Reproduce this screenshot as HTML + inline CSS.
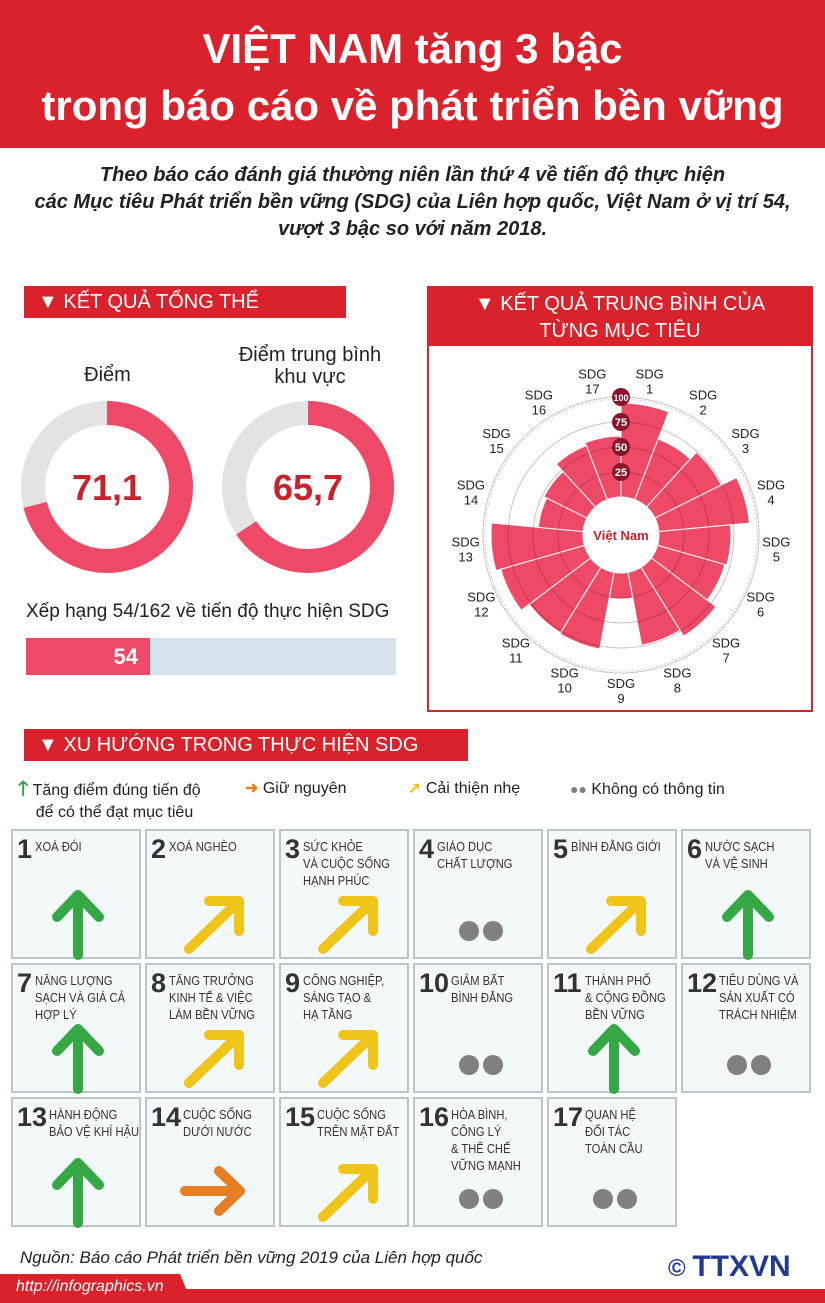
<!DOCTYPE html>
<html><head><meta charset="utf-8">
<style>
*{margin:0;padding:0;box-sizing:border-box}
body{width:825px;height:1303px;position:relative;background:#fff;font-family:"Liberation Sans",sans-serif;overflow:hidden;color:#222}
.abs{position:absolute}
.title{left:0;top:0;width:825px;height:148px;background:#d9222b;color:#fff;text-align:center;font-weight:bold;font-size:42px;line-height:57px;padding-top:20px}
.sub{left:0;top:162px;width:825px;text-align:center;font-weight:bold;font-style:italic;font-size:20px;line-height:27px;color:#222}
.bar{background:#d9222b;color:#fff;font-size:20px;line-height:32px;padding-left:14px;height:32px}
.tile{position:absolute;width:130px;height:130px;background:#f3f8fb;border:2px solid #b9c6cc}
.num{position:absolute;left:4px;top:4px;font-size:27px;font-weight:bold;color:#333;line-height:28px}
.lab{position:absolute;top:7px;font-size:13px;line-height:17px;color:#333;white-space:nowrap;transform:scaleX(0.86);transform-origin:0 0}
.tile svg{position:absolute;left:0;top:0}
</style></head><body>
<div class="abs title">VIỆT NAM tăng 3 bậc<br>trong báo cáo về phát triển bền vững</div>
<div class="abs sub">Theo báo cáo đánh giá thường niên lần thứ 4 về tiến độ thực hiện<br>các Mục tiêu Phát triển bền vững (SDG) của Liên hợp quốc, Việt Nam ở vị trí 54,<br>vượt 3 bậc so với năm 2018.</div>

<div class="abs bar" style="left:24px;top:286px;width:322px">▼ KẾT QUẢ TỔNG THỂ</div>
<div class="abs" style="left:20px;top:364px;width:175px;text-align:center;font-size:20px">Điểm</div>
<div class="abs" style="left:210px;top:344px;width:200px;text-align:center;font-size:20px;line-height:22px">Điểm trung bình<br>khu vực</div>
<svg class="abs" style="left:0;top:380px" width="420" height="220"><g id="donuts"></g></svg>
<div class="abs" style="left:26px;top:601px;font-size:19px">Xếp hạng 54/162 về tiến độ thực hiện SDG</div>
<div class="abs" style="left:26px;top:638px;width:370px;height:37px;background:#d4e3ec"></div>
<div class="abs" style="left:26px;top:638px;width:124px;height:37px;background:#ee4a68;color:#fff;font-weight:bold;font-size:22px;line-height:37px;text-align:right;padding-right:12px">54</div>

<div class="abs" style="left:427px;top:286px;width:386px;height:426px;border:2px solid #d9222b"></div>
<div class="abs" style="left:427px;top:286px;width:386px;height:60px;background:#d9222b;color:#fff;font-size:20px;line-height:27px;text-align:center;padding-top:5px">▼ KẾT QUẢ TRUNG BÌNH CỦA<br>TỪNG MỤC TIÊU</div>
<svg class="abs" style="left:429px;top:346px" width="382" height="364"><g id="polar"></g></svg>

<div class="abs bar" style="left:24px;top:729px;width:444px">▼ XU HƯỚNG TRONG THỰC HIỆN SDG</div>
<div class="abs" style="left:18px;top:778px;font-size:16px;line-height:22px"><span style="color:#2ea043;font-weight:bold;font-size:20px">🡑</span> Tăng điểm đúng tiến độ<br>&nbsp;&nbsp;&nbsp;&nbsp;để có thể đạt mục tiêu</div>
<div class="abs" style="left:245px;top:778px;font-size:16px;line-height:22px"><span style="color:#e87e22;font-weight:bold">➜</span> Giữ nguyên</div>
<div class="abs" style="left:408px;top:778px;font-size:16px;line-height:22px"><span style="color:#f0c419;font-weight:bold">➚</span> Cải thiện nhẹ</div>
<div class="abs" style="left:570px;top:778px;font-size:16px;line-height:22px"><span style="color:#808080;font-size:14px">●●</span> Không có thông tin</div>
<div id="grid"></div>

<div class="abs" style="left:20px;top:1248px;font-style:italic;font-size:17px">Nguồn: Báo cáo Phát triển bền vững 2019 của Liên hợp quốc</div>
<div class="abs" style="left:668px;top:1250px;font-size:24px;font-weight:bold;color:#233b8f">© <span style="font-size:30px">TTXVN</span></div>
<svg class="abs" style="left:0;top:1274px" width="825" height="29"><rect x="0" y="15" width="825" height="14" fill="#d9222b"/><polygon points="0,0 180,0 192,29 0,29" fill="#d9222b"/></svg>
<div class="abs" style="left:16px;top:1278px;color:#fff;font-style:italic;font-size:16px">http://infographics.vn</div>

<script>
const NS='http://www.w3.org/2000/svg';
function mk(t,a,p){const e=document.createElementNS(NS,t);for(const k in a)e.setAttribute(k,a[k]);p.appendChild(e);return e;}
// donuts
const donutValues=[71.1,65.7];
const donutLabels=['71,1','65,7'];
const dg=document.getElementById('donuts');
donutValues.forEach((v,i)=>{
  const cx=[107,308][i],cy=107,r=74;
  const c=mk('circle',{cx,cy,r,fill:'none',stroke:'#e3e3e3','stroke-width':24},dg);
  
  
  const a=v/100*2*Math.PI;
  const x=cx+r*Math.sin(a),y=cy-r*Math.cos(a);
  const p=mk('path',{d:`M${cx},${cy-r} A${r},${r} 0 ${a>Math.PI?1:0} 1 ${x},${y}`,fill:'none',stroke:'#ee4a68','stroke-width':24},dg);
  
  
  const t=mk('text',{x:cx,y:cy+13,'text-anchor':'middle','font-size':36,'font-weight':'bold',fill:'#c8232c'},dg);
  t.textContent=donutLabels[i];
  
  
});
// polar
const sdgNames=['1','2','3','4','5','6','7','8','9','10','11','12','13','14','15','16','17'];
const sdgValues=[94,65,74,91,72,70,81,74,26,78,77,87,92,45,48,58,61];
const ringTicks=[25,50,75,100];
const pg=document.getElementById('polar');
const CX=192,CY=189,R0=38,K=1.0;
const rad=v=>R0+v*K;
mk('circle',{cx:CX,cy:CY,r:136,fill:'none',stroke:'#ccc','stroke-width':1,'stroke-dasharray':'2,2'},pg);
const n=sdgNames.length,step=2*Math.PI/n;
sdgValues.forEach((v,i)=>{
  const a0=i*step,a1=(i+1)*step,ro=rad(v),ri=R0;
  const P=(r,a)=>`${CX+r*Math.sin(a)},${CY-r*Math.cos(a)}`;
  const p=mk('path',{d:`M${P(ri,a0)} L${P(ro,a0)} A${ro},${ro} 0 0 1 ${P(ro,a1)} L${P(ri,a1)} A${ri},${ri} 0 0 0 ${P(ri,a0)}Z`,fill:'#ee4a68',stroke:'#fff','stroke-width':1},pg);
  
  
  const am=(i+0.5)*step,lr=156;
  const lx=CX+lr*Math.sin(am),ly=CY-lr*Math.cos(am);
  const t=mk('text',{x:lx,y:ly-3,'text-anchor':'middle','font-size':13,fill:'#222'},pg);
  
  
  mk('tspan',{x:lx,dy:0},t).textContent='SDG';
  mk('tspan',{x:lx,dy:15},t).textContent=sdgNames[i];
});
ringTicks.forEach(v=>{
  mk('circle',{cx:CX,cy:CY,r:rad(v),fill:'none',stroke:'rgba(80,0,0,0.25)','stroke-width':1},pg);
});
ringTicks.forEach(v=>{
  const y=CY-rad(v);
  mk('circle',{cx:CX,cy:y,r:9,fill:'#8a1428'},pg);
  const t=mk('text',{x:CX,y:y+4,'text-anchor':'middle','font-size':v==100?9:11,'font-weight':'bold',fill:'#fff'},pg);
  t.textContent=v;
  
  
});
mk('circle',{cx:CX,cy:CY,r:R0,fill:'#fff'},pg);
const vn=mk('text',{x:CX,y:CY+5,'text-anchor':'middle','font-size':13,'font-weight':'bold',fill:'#c8232c'},pg);
vn.textContent='Việt Nam';
// grid
const tileNums=[1,2,3,4,5,6,7,8,9,10,11,12,13,14,15,16,17];
const tileLabels=['XOÁ ĐÓI','XOÁ NGHÈO','SỨC KHỎE<br>VÀ CUỘC SỐNG<br>HẠNH PHÚC','GIÁO DỤC<br>CHẤT LƯỢNG','BÌNH ĐẲNG GIỚI','NƯỚC SẠCH<br>VÀ VỆ SINH','NĂNG LƯỢNG<br>SẠCH VÀ GIÁ CẢ<br>HỢP LÝ','TĂNG TRƯỞNG<br>KINH TẾ &amp; VIỆC<br>LÀM BỀN VỮNG','CÔNG NGHIỆP,<br>SÁNG TẠO &amp;<br>HẠ TẦNG','GIẢM BẤT<br>BÌNH ĐẲNG','THÀNH PHỐ<br>&amp; CỘNG ĐỒNG<br>BỀN VỮNG','TIÊU DÙNG VÀ<br>SẢN XUẤT CÓ<br>TRÁCH NHIỆM','HÀNH ĐỘNG<br>BẢO VỆ KHÍ HẬU','CUỘC SỐNG<br>DƯỚI NƯỚC','CUỘC SỐNG<br>TRÊN MẶT ĐẤT','HÒA BÌNH,<br>CÔNG LÝ<br>&amp; THỂ CHẾ<br>VỮNG MẠNH','QUAN HỆ<br>ĐỐI TÁC<br>TOÀN CẦU'];
const tileTrends=['up','diag','diag','dots','diag','up','up','diag','diag','dots','up','dots','up','right','diag','dots','dots'];
const grid=document.getElementById('grid');
const icons={
 up:'<g stroke="#35a745" stroke-width="10" stroke-linecap="round" stroke-linejoin="round" fill="none"><path d="M65 124 V64 M44 86 L65 64 L86 86"/></g>',
 diag:'<g stroke="#f0c419" stroke-width="10" stroke-linecap="round" stroke-linejoin="round" fill="none"><path d="M42 118 L90 72 M62 70 H92 V100"/></g>',
 right:'<g stroke="#e87e22" stroke-width="10" stroke-linecap="round" stroke-linejoin="round" fill="none"><path d="M38 92 H92 M72 72 L93 92 L72 112"/></g>',
 dots:'<circle cx="54" cy="100" r="10" fill="#808080"/><circle cx="78" cy="100" r="10" fill="#808080"/>'
};
tileNums.forEach((nm,i)=>{
  const col=i%6,row=Math.floor(i/6);
  const d=document.createElement('div');
  d.className='tile';
  d.style.left=(11+col*134)+'px';d.style.top=(829+row*134)+'px';
  
  
  const lx=nm>=10?36:22;
  d.innerHTML=`<div class="num">${nm}</div><div class="lab" style="left:${lx}px">${tileLabels[i]}</div><svg width="130" height="130">${icons[tileTrends[i]]}</svg>`;
  grid.appendChild(d);
});
</script>
</body></html>
